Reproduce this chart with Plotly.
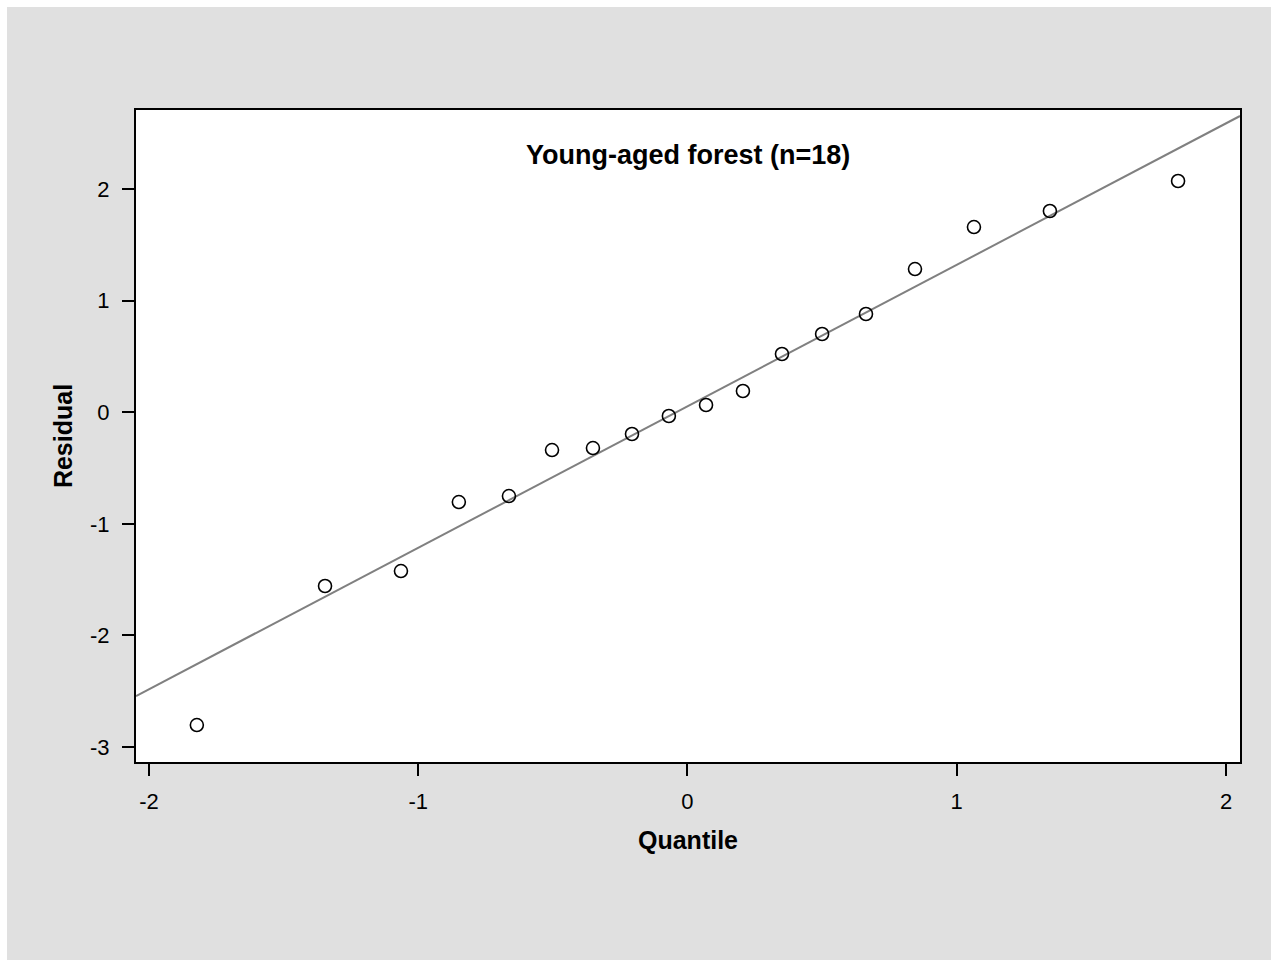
import plotly.graph_objects as go

# Normal quantiles and model residuals for the young-aged forest plots
quantile = [-1.822, -1.346, -1.064, -0.849, -0.663, -0.503, -0.351, -0.206, -0.069,
            0.069, 0.206, 0.351, 0.500, 0.663, 0.845, 1.064, 1.346, 1.822]
residual = [-2.803, -1.557, -1.423, -0.805, -0.751, -0.339, -0.321, -0.195, -0.034,
            0.065, 0.190, 0.522, 0.701, 0.880, 1.283, 1.659, 1.803, 2.072]

# Reference line of the Q-Q plot
line_slope = 1.2676
line_intercept = 0.053

x_ticks = [-2, -1, 0, 1, 2]
x_tick_text = ["-2", "-1", "0", "1", "2"]
y_ticks = [-3, -2, -1, 0, 1, 2]
y_tick_text = ["-3", "-2", "-1", "0", "1", "2"]

x_range = [-2.048, 2.052]
y_range = [-3.134, 2.708]

W, H = 1271, 960
ML, MR, MT, MB = 136, 31, 110, 198
BG = "#e0e0e0"
FONT = "Liberation Sans, Arial, sans-serif"

fig = go.Figure()

fig.add_trace(go.Scatter(
    x=x_range,
    y=[line_intercept + line_slope * v for v in x_range],
    mode="lines",
    line=dict(color="#808080", width=2),
    hoverinfo="skip",
    showlegend=False,
))

fig.add_trace(go.Scatter(
    x=quantile,
    y=residual,
    mode="markers",
    marker=dict(symbol="circle-open", size=13, color="black", line=dict(width=1.6)),
    showlegend=False,
))

pw = W - ML - MR
ph = H - MT - MB

# Grey page panel with a thin white edge at top and left, white plotting area on top
fig.add_shape(type="rect", xref="paper", yref="paper", layer="below",
              x0=(7 - ML) / pw, x1=(W - ML) / pw,
              y0=-MB / ph, y1=(ph + MT - 7) / ph,
              fillcolor=BG, line=dict(width=0))
fig.add_shape(type="rect", xref="paper", yref="paper", layer="below",
              x0=0, x1=1, y0=0, y1=1,
              fillcolor="white", line=dict(width=0))

axis_common = dict(
    showgrid=False, zeroline=False,
    showline=True, linecolor="black", linewidth=2, mirror=True,
    ticks="outside", ticklen=12, tickwidth=2, tickcolor="black",
    tickfont=dict(family=FONT, size=22, color="black"),
)

fig.update_xaxes(
    range=x_range, tickvals=x_ticks, ticktext=x_tick_text,
    ticklabelstandoff=7,
    title=dict(text="<b>Quantile</b>", font=dict(family=FONT, size=25, color="black"), standoff=18),
    **axis_common,
)
fig.update_yaxes(
    range=y_range, tickvals=y_ticks, ticktext=y_tick_text,
    ticklabelstandoff=8,
    title=dict(text="<b>Residual</b>", font=dict(family=FONT, size=25, color="black"), standoff=10),
    **axis_common,
)

fig.add_annotation(
    text="<b>Young-aged forest (n=18)</b>",
    xref="paper", yref="paper", x=0.5, y=(ph - 45) / ph,
    xanchor="center", yanchor="middle", showarrow=False,
    font=dict(family=FONT, size=27, color="black"),
)

fig.update_layout(
    width=W, height=H,
    margin=dict(l=ML, r=MR, t=MT, b=MB),
    paper_bgcolor="white",
    plot_bgcolor="white",
)

fig.write_html("out.html")
